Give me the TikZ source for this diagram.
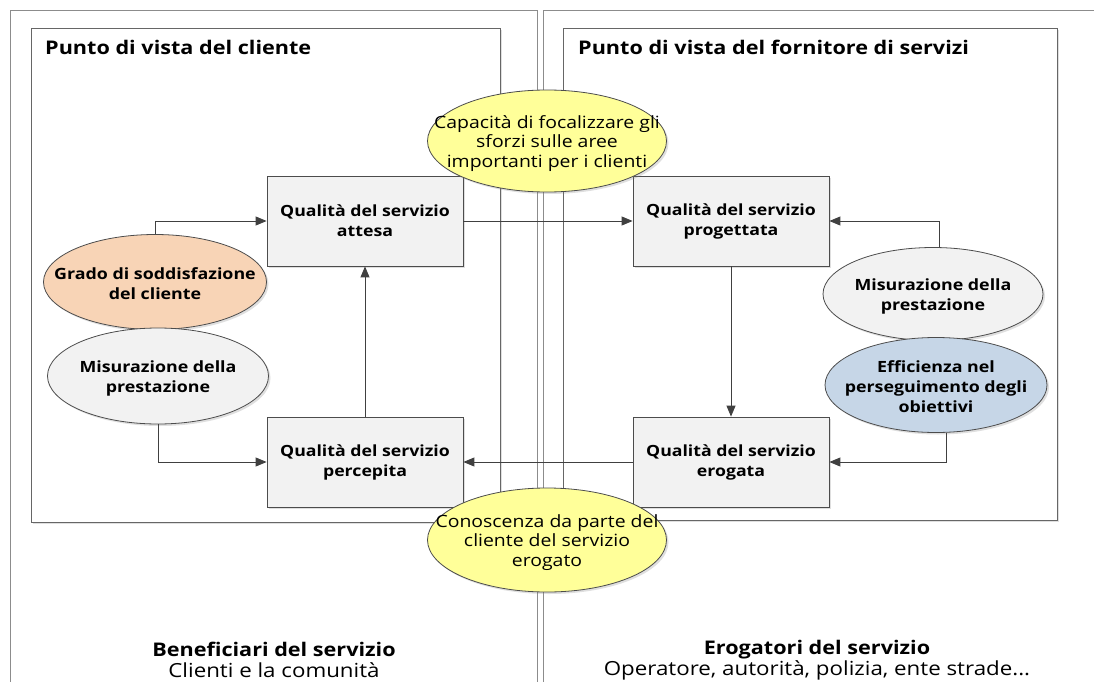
\documentclass[tikz,border=0pt]{standalone}
\usepackage{fontspec}
\setmainfont{Open Sans}[FakeStretch=1.15]
\usetikzlibrary{shapes.geometric,arrows.meta,shadows}
\definecolor{boxgray}{HTML}{F2F2F2}
\definecolor{yel}{HTML}{FFFF99}
\definecolor{ora}{HTML}{F8D4B6}
\definecolor{blu}{HTML}{C6D6E7}
\definecolor{framegray}{HTML}{8C8C8C}
\begin{document}
\begin{tikzpicture}[x=1pt,y=-1pt,
  frame/.style={draw=framegray, line width=0.9pt},
  panel/.style={draw=black!60, line width=0.8pt, fill=white,
    drop shadow={shadow xshift=2pt, shadow yshift=-2pt, opacity=0.25}},
  qbox/.style={rectangle, draw=black!70, fill=boxgray, line width=0.8pt,
    minimum width=196pt, minimum height=90pt, align=center,
    font=\fontsize{15.4}{20}\selectfont\bfseries,
    drop shadow={shadow xshift=2pt, shadow yshift=-2pt, opacity=0.25}},
  oval/.style={ellipse, draw=black!70, line width=0.8pt, inner sep=0pt,
    drop shadow={shadow xshift=2pt, shadow yshift=-2pt, opacity=0.25}},
  boldtxt/.style={align=center, yshift=-2pt, font=\fontsize{15.5}{20}\selectfont\bfseries},
  regtxt/.style={align=center, yshift=-2.5pt, font=\fontsize{16.9}{19.5}\selectfont},
  title/.style={font=\fontsize{18.8}{20}\selectfont\bfseries, anchor=west, inner sep=0pt},
  conn/.style={draw=black!75, line width=0.9pt, -{Triangle[length=11pt,width=9pt]}}
]
\useasboundingbox (0,0) rectangle (1094,682);
\fill[white] (0,0) rectangle (1094,682);

% outer frames
\draw[frame] (10,682) -- (10,10) -- (537,10) -- (537,682);
\draw[frame] (543,682) -- (543,10) -- (1094,10);

% panels
\draw[panel] (31,28) rectangle (500,522);
\draw[panel] (563,28) rectangle (1057,520);
\node[title] (t1) at (45,47) {Punto di vista del cliente};
\node[title] (t2) at (578,47) {Punto di vista del fornitore di servizi};

% quality boxes
\node[qbox] (attesa) at (365,221) {Qualità del servizio\\attesa};
\node[qbox] (prog) at (731,221) {Qualità del servizio\\progettata};
\node[qbox] (perc) at (365,462) {Qualità del servizio\\percepita};
\node[qbox] (erog) at (731,462) {Qualità del servizio\\erogata};

% connectors
\draw[conn] (attesa.east) -- (prog.west);
\draw[conn] (prog.south) -- (erog.north);
\draw[conn] (erog.west) -- (perc.east);
\draw[conn] (perc.north) -- (attesa.south);

% ellipses
\node[oval, fill=ora, minimum width=223pt, minimum height=95pt,
  label={[boldtxt]center:Grado di soddisfazione\\del cliente}] (grado) at (155,282) {};
\node[oval, fill=boxgray, minimum width=221pt, minimum height=96pt,
  label={[boldtxt]center:Misurazione della\\prestazione}] (misL) at (158,376) {};
\node[oval, fill=boxgray, minimum width=220pt, minimum height=93pt,
  label={[boldtxt]center:Misurazione della\\prestazione}] (misR) at (933,294) {};
\node[oval, fill=blu, minimum width=222pt, minimum height=95pt,
  label={[boldtxt]center:Efficienza nel\\perseguimento degli\\obiettivi}] (effic) at (936,385) {};
\node[oval, fill=yel, minimum width=239pt, minimum height=102pt,
  label={[regtxt]center:Capacità di focalizzare gli\\sforzi sulle aree\\importanti per i clienti}] (capac) at (547,141) {};
\node[oval, fill=yel, minimum width=239pt, minimum height=104pt,
  label={[regtxt]center:Conoscenza da parte del\\cliente del servizio\\erogato}] (conos) at (547,540) {};

\draw[conn] (grado.north) |- (attesa.west);
\draw[conn] (misL.south) |- (perc.west);
\draw[conn] (misR.82) |- (prog.east);
\draw[conn] (effic.-78) |- (erog.east);

% bottom labels
\node[align=center, font=\fontsize{19.4}{21}\selectfont] (benef) at (274,660) {{\fontsize{18.8}{21}\selectfont\bfseries Beneficiari del servizio}\\Clienti e la comunità};
\node[align=center, font=\fontsize{19.4}{21}\selectfont] (erogat) at (817,660) {{\fontsize{18.8}{21}\selectfont\bfseries Erogatori del servizio}\\Operatore, autorità, polizia, ente strade...};
\end{tikzpicture}
\end{document}
